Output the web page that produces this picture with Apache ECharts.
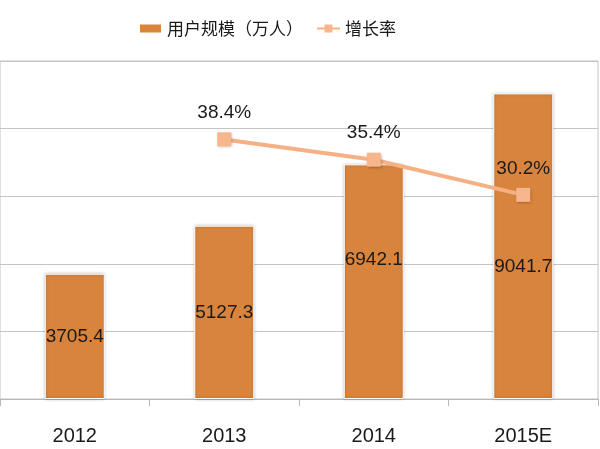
<!DOCTYPE html>
<html>
<head>
<meta charset="utf-8">
<script src="https://cdn.jsdelivr.net/npm/echarts@6/dist/echarts.min.js"></script>
<style>html,body{margin:0;padding:0;background:#fff}#c{width:600px;height:449px}</style>
</head>
<body>
<div id="c"></div>
<script>
var categories = ['2012', '2013', '2014', '2015E'];
var users = [3705.4, 5127.3, 6942.1, 9041.7];
var growth = [null, 38.4, 35.4, 30.2];
var seriesNames = ['用户规模（万人）', '增长率'];

var barLabelShift = [0, 0, -22, 21];
var font = "'Liberation Sans', 'Noto Sans CJK SC', sans-serif";

var chart = echarts.init(document.getElementById('c'));
chart.setOption({
  animation: false,
  backgroundColor: '#fff',
  legend: {
    top: 15,
    left: 133,
    itemGap: 13,
    textStyle: { fontSize: 17, color: '#1a1a1a', fontFamily: "'Noto Sans CJK SC', sans-serif" },
    data: [
      { name: seriesNames[0], icon: 'rect', itemStyle: { shadowBlur: 0 } },
      { name: seriesNames[1] }
    ],
    itemWidth: 23,
    itemHeight: 10
  },
  grid: { left: -2, right: 2, top: 61, bottom: 50, show: true, borderColor: '#c4c4c4', borderWidth: 1 },
  xAxis: {
    type: 'category',
    data: categories,
    axisLine: { lineStyle: { color: '#b8b8b8' } },
    axisTick: { show: true, length: 7, lineStyle: { color: '#b8b8b8' } },
    axisLabel: { fontSize: 20, color: '#1a1a1a', margin: 27, fontFamily: font }
  },
  yAxis: [
    {
      type: 'value', min: 0, max: 10000, interval: 2000,
      axisLabel: { show: false }, axisLine: { show: false }, axisTick: { show: false },
      splitLine: { lineStyle: { color: '#c4c4c4', width: 1 } }
    },
    {
      type: 'value', min: 0, max: 50, interval: 10, show: false,
      splitLine: { show: false }
    }
  ],
  series: [
    {
      name: seriesNames[0],
      type: 'bar',
      barWidth: 60,
      data: users.map(function (v, i) {
        return { value: v, label: { offset: [0, barLabelShift[i]] } };
      }),
      itemStyle: {
        color: '#D9843D',
        borderColor: '#ffffff', borderWidth: 1,
        shadowColor: 'rgba(0,0,0,0.25)', shadowBlur: 3
      },
      label: {
        show: true, position: 'inside', fontSize: 19, color: '#1a1a1a', fontFamily: font,
        formatter: function (p) { return p.value.toFixed(1); }
      },
      z: 2
    },
    {
      name: seriesNames[1],
      type: 'line',
      yAxisIndex: 1,
      data: growth,
      connectNulls: false,
      symbol: 'rect',
      symbolSize: 14,
      lineStyle: { color: '#F5B183', width: 4 },
      itemStyle: { color: '#F8B68C', shadowColor: 'rgba(0,0,0,0.3)', shadowBlur: 3, shadowOffsetX: 1, shadowOffsetY: 1 },
      label: {
        show: true, position: 'top', distance: 10, fontSize: 19, color: '#1a1a1a', fontFamily: font,
        formatter: function (p) { return p.value.toFixed(1) + '%'; }
      },
      z: 3
    }
  ]
});
</script>
</body>
</html>
